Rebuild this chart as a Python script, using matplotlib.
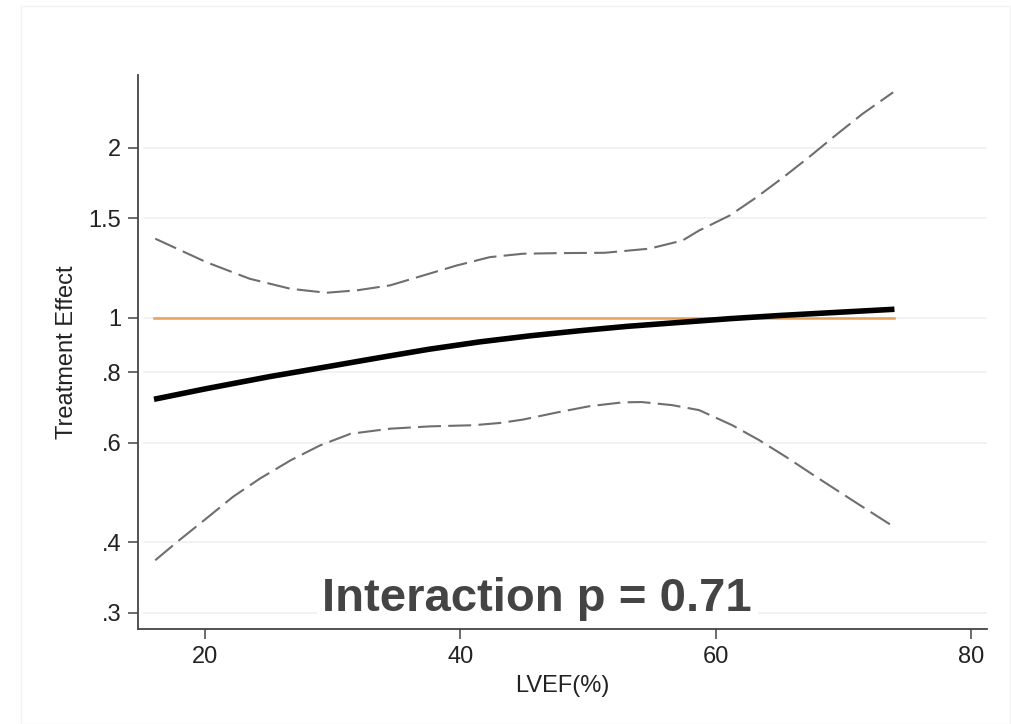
import numpy as np
import matplotlib
matplotlib.use("Agg")
import matplotlib.pyplot as plt
from matplotlib.ticker import FixedLocator, FixedFormatter, NullLocator
from matplotlib.patches import Rectangle

# values (LVEF in %, treatment effect on a log axis)
fit_x = [16, 20, 25, 30, 33.7, 37.5, 41.5, 45.5, 49.3, 53, 57.2, 61.1, 65, 69.5, 74]
fit_y = [0.717, 0.748, 0.786, 0.822, 0.850, 0.879, 0.906, 0.929, 0.948, 0.965, 0.981, 0.996, 1.009, 1.022, 1.035]

upper_x = [16.1, 20.1, 23.5, 26.7, 29.5, 31.9, 34.5, 37.1, 39.7, 42.3, 44.9, 47.5, 51.3,
           54.8, 57.4, 58.7, 61.1, 63.2, 65.3, 67.3, 69.2, 71.5, 73.9]
upper_y = [1.380, 1.254, 1.172, 1.125, 1.107, 1.118, 1.141, 1.188, 1.237, 1.280, 1.298, 1.301, 1.303,
           1.325, 1.370, 1.427, 1.517, 1.634, 1.773, 1.924, 2.087, 2.296, 2.507]

lower_x = [16.1, 18.0, 20.1, 22.2, 24.3, 26.7, 29.0, 31.4, 34.5, 37.6, 41.0, 43.1, 44.9, 47.5,
           50.1, 52.7, 54.2, 56.6, 58.7, 61.3, 63.4, 65.5, 67.9, 70.7, 73.9]
lower_y = [0.372, 0.404, 0.441, 0.482, 0.519, 0.559, 0.594, 0.623, 0.636, 0.642, 0.645, 0.651, 0.660, 0.679,
           0.697, 0.708, 0.709, 0.700, 0.686, 0.645, 0.607, 0.567, 0.522, 0.475, 0.427]

null_x = [16, 74]
null_y = [1, 1]

yticks = [0.3, 0.4, 0.6, 0.8, 1, 1.5, 2]
ylabels = [".3", ".4", ".6", ".8", "1", "1.5", "2"]
xticks = [20, 40, 60, 80]

plt.rcParams['font.family'] = ['Liberation Sans', 'DejaVu Sans']

fig = plt.figure(figsize=(10.12, 7.24), dpi=100)
fig.patches.append(Rectangle((0.021, 0.0), 0.977, 0.992, transform=fig.transFigure,
                             fill=False, edgecolor='#f2f2f2', lw=1))
ax = fig.add_axes([0.1364, 0.1312, 0.8389, 0.7652])

ax.set_yscale('log')
ax.set_xlim(14.75, 81.25)
ax.set_ylim(0.281, 2.69)

for t in yticks:
    ax.axhline(t, xmin=0.007, xmax=1.0, color='#edf1f2', lw=1.2, zorder=0)

ax.plot(null_x, null_y, color='#e8a05a', lw=1.8, zorder=2)
ax.plot(upper_x, upper_y, color='#6e6e6e', lw=1.5, ls=(0, (11, 3.5)), zorder=3)
ax.plot(lower_x, lower_y, color='#6e6e6e', lw=1.5, ls=(0, (11, 3.5)), zorder=3)
ax.plot(fit_x, fit_y, color='black', lw=4, zorder=4, solid_capstyle='butt')

ax.yaxis.set_major_locator(FixedLocator(yticks))
ax.yaxis.set_major_formatter(FixedFormatter(ylabels))
ax.yaxis.set_minor_locator(NullLocator())
ax.set_xticks(xticks)

for s in ['top', 'right']:
    ax.spines[s].set_visible(False)
for s in ['left', 'bottom']:
    ax.spines[s].set_color('#444444')
    ax.spines[s].set_linewidth(1.3)
ax.tick_params(axis='both', direction='out', length=7, width=1.1, color='#444444',
               labelsize=17, labelcolor='#222222', pad=5)

ax.set_xlabel('LVEF(%)', fontsize=17, color='#222222', labelpad=5)
ax.set_ylabel('Treatment Effect', fontsize=17, color='#222222', labelpad=8)

fig.text(0.531, 0.172, 'Interaction p = 0.71', fontsize=34, fontweight='bold',
         color='#444444', ha='center', va='center',
         bbox=dict(facecolor='white', edgecolor='none', pad=4))

fig.savefig('out.png', dpi=100)
